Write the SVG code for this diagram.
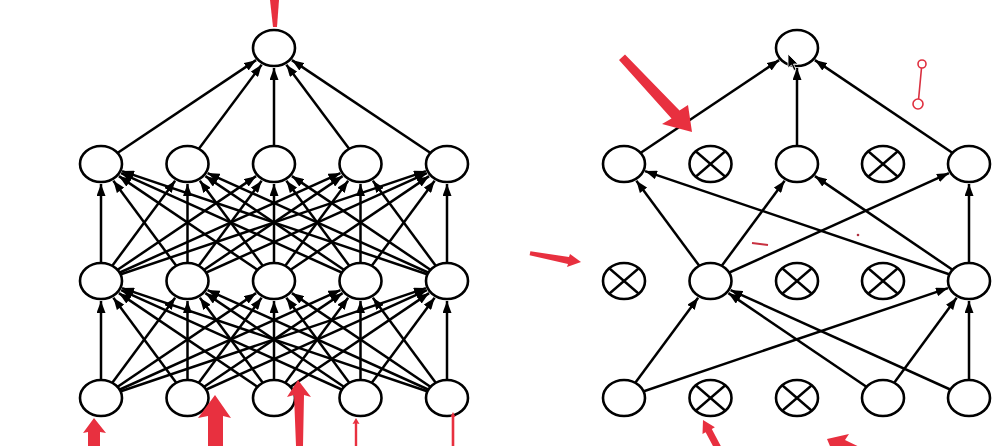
<svg xmlns="http://www.w3.org/2000/svg" width="998" height="446" viewBox="0 0 998 446">
<style>
.c{stroke:#000;stroke-width:2.5;fill:none;marker-end:url(#ah)}
.n{fill:#fff;stroke:#000;stroke-width:2.6}
.x{stroke:#000;stroke-width:2.4}
.r{fill:#e8303f}
.rs{stroke:#e0303f;fill:#fff;stroke-width:1.6}
</style>
<defs>
<marker id="ah" markerUnits="userSpaceOnUse" markerWidth="12" markerHeight="9" refX="12" refY="4.5" orient="auto">
<path d="M0,0 L12,4.5 L0,9 z" fill="#000"/>
</marker>
<g id="drop"><ellipse class="n" cx="0" cy="0" rx="21" ry="18"/><line class="x" x1="-14.5" y1="-12.5" x2="14.5" y2="12.5"/><line class="x" x1="14.5" y1="-12.5" x2="-14.5" y2="12.5"/></g>
</defs>
<rect width="998" height="446" fill="#fff"/>
<g id="connectors">
<line class="c" x1="101" y1="398" x2="101" y2="301"/>
<line class="c" x1="187.5" y1="398" x2="113.36" y2="297.72"/>
<line class="c" x1="274" y1="398" x2="118.91" y2="293.11"/>
<line class="c" x1="360.5" y1="398" x2="121.07" y2="290.05"/>
<line class="c" x1="447" y1="398" x2="122.03" y2="288.11"/>
<line class="c" x1="101" y1="398" x2="175.14" y2="297.72"/>
<line class="c" x1="187.5" y1="398" x2="187.5" y2="301"/>
<line class="c" x1="274" y1="398" x2="199.86" y2="297.72"/>
<line class="c" x1="360.5" y1="398" x2="205.41" y2="293.11"/>
<line class="c" x1="447" y1="398" x2="207.57" y2="290.05"/>
<line class="c" x1="101" y1="398" x2="256.09" y2="293.11"/>
<line class="c" x1="187.5" y1="398" x2="261.64" y2="297.72"/>
<line class="c" x1="274" y1="398" x2="274" y2="301"/>
<line class="c" x1="360.5" y1="398" x2="286.36" y2="297.72"/>
<line class="c" x1="447" y1="398" x2="291.91" y2="293.11"/>
<line class="c" x1="101" y1="398" x2="340.43" y2="290.05"/>
<line class="c" x1="187.5" y1="398" x2="342.59" y2="293.11"/>
<line class="c" x1="274" y1="398" x2="348.14" y2="297.72"/>
<line class="c" x1="360.5" y1="398" x2="360.5" y2="301"/>
<line class="c" x1="447" y1="398" x2="372.86" y2="297.72"/>
<line class="c" x1="101" y1="398" x2="425.97" y2="288.11"/>
<line class="c" x1="187.5" y1="398" x2="426.93" y2="290.05"/>
<line class="c" x1="274" y1="398" x2="429.09" y2="293.11"/>
<line class="c" x1="360.5" y1="398" x2="434.64" y2="297.72"/>
<line class="c" x1="447" y1="398" x2="447" y2="301"/>
<line class="c" x1="101" y1="281" x2="101" y2="184"/>
<line class="c" x1="187.5" y1="281" x2="113.36" y2="180.72"/>
<line class="c" x1="274" y1="281" x2="118.91" y2="176.11"/>
<line class="c" x1="360.5" y1="281" x2="121.07" y2="173.05"/>
<line class="c" x1="447" y1="281" x2="122.03" y2="171.11"/>
<line class="c" x1="101" y1="281" x2="175.14" y2="180.72"/>
<line class="c" x1="187.5" y1="281" x2="187.5" y2="184"/>
<line class="c" x1="274" y1="281" x2="199.86" y2="180.72"/>
<line class="c" x1="360.5" y1="281" x2="205.41" y2="176.11"/>
<line class="c" x1="447" y1="281" x2="207.57" y2="173.05"/>
<line class="c" x1="101" y1="281" x2="256.09" y2="176.11"/>
<line class="c" x1="187.5" y1="281" x2="261.64" y2="180.72"/>
<line class="c" x1="274" y1="281" x2="274" y2="184"/>
<line class="c" x1="360.5" y1="281" x2="286.36" y2="180.72"/>
<line class="c" x1="447" y1="281" x2="291.91" y2="176.11"/>
<line class="c" x1="101" y1="281" x2="340.43" y2="173.05"/>
<line class="c" x1="187.5" y1="281" x2="342.59" y2="176.11"/>
<line class="c" x1="274" y1="281" x2="348.14" y2="180.72"/>
<line class="c" x1="360.5" y1="281" x2="360.5" y2="184"/>
<line class="c" x1="447" y1="281" x2="372.86" y2="180.72"/>
<line class="c" x1="101" y1="281" x2="425.97" y2="171.11"/>
<line class="c" x1="187.5" y1="281" x2="426.93" y2="173.05"/>
<line class="c" x1="274" y1="281" x2="429.09" y2="176.11"/>
<line class="c" x1="360.5" y1="281" x2="434.64" y2="180.72"/>
<line class="c" x1="447" y1="281" x2="447" y2="184"/>
<line class="c" x1="101" y1="164" x2="256.09" y2="60.11"/>
<line class="c" x1="187.5" y1="164" x2="261.64" y2="64.72"/>
<line class="c" x1="274" y1="164" x2="274" y2="68"/>
<line class="c" x1="360.5" y1="164" x2="286.36" y2="64.72"/>
<line class="c" x1="447" y1="164" x2="291.91" y2="60.11"/>
<line class="c" x1="624" y1="164" x2="779.09" y2="60.11"/>
<line class="c" x1="797" y1="164" x2="797" y2="68"/>
<line class="c" x1="969" y1="164" x2="814.91" y2="60.11"/>
<line class="c" x1="710.5" y1="281" x2="636.36" y2="180.72"/>
<line class="c" x1="710.5" y1="281" x2="784.64" y2="180.72"/>
<line class="c" x1="710.5" y1="281" x2="948.93" y2="173.05"/>
<line class="c" x1="969" y1="281" x2="645.03" y2="171.11"/>
<line class="c" x1="969" y1="281" x2="814.91" y2="176.11"/>
<line class="c" x1="969" y1="281" x2="969" y2="184"/>
<line class="c" x1="624" y1="398" x2="698.14" y2="297.72"/>
<line class="c" x1="624" y1="398" x2="947.97" y2="288.11"/>
<line class="c" x1="883" y1="398" x2="728.41" y2="293.11"/>
<line class="c" x1="883" y1="398" x2="956.64" y2="297.72"/>
<line class="c" x1="969" y1="398" x2="730.57" y2="290.05"/>
<line class="c" x1="969" y1="398" x2="969" y2="301"/>
</g>
<g id="left-out"><ellipse class="n" cx="274" cy="48" rx="21" ry="18"/></g>
<g id="left-h2-0"><ellipse class="n" cx="101" cy="164" rx="21" ry="18"/></g>
<g id="left-h2-1"><ellipse class="n" cx="187.5" cy="164" rx="21" ry="18"/></g>
<g id="left-h2-2"><ellipse class="n" cx="274" cy="164" rx="21" ry="18"/></g>
<g id="left-h2-3"><ellipse class="n" cx="360.5" cy="164" rx="21" ry="18"/></g>
<g id="left-h2-4"><ellipse class="n" cx="447" cy="164" rx="21" ry="18"/></g>
<g id="left-h1-0"><ellipse class="n" cx="101" cy="281" rx="21" ry="18"/></g>
<g id="left-h1-1"><ellipse class="n" cx="187.5" cy="281" rx="21" ry="18"/></g>
<g id="left-h1-2"><ellipse class="n" cx="274" cy="281" rx="21" ry="18"/></g>
<g id="left-h1-3"><ellipse class="n" cx="360.5" cy="281" rx="21" ry="18"/></g>
<g id="left-h1-4"><ellipse class="n" cx="447" cy="281" rx="21" ry="18"/></g>
<g id="left-in-0"><ellipse class="n" cx="101" cy="398" rx="21" ry="18"/></g>
<g id="left-in-1"><ellipse class="n" cx="187.5" cy="398" rx="21" ry="18"/></g>
<g id="left-in-2"><ellipse class="n" cx="274" cy="398" rx="21" ry="18"/></g>
<g id="left-in-3"><ellipse class="n" cx="360.5" cy="398" rx="21" ry="18"/></g>
<g id="left-in-4"><ellipse class="n" cx="447" cy="398" rx="21" ry="18"/></g>
<g id="right-out"><ellipse class="n" cx="797" cy="48" rx="21" ry="18"/></g>
<g id="right-h2-0"><ellipse class="n" cx="624" cy="164" rx="21" ry="18"/></g>
<g id="right-h2-1"><use href="#drop" x="710.5" y="164"/></g>
<g id="right-h2-2"><ellipse class="n" cx="797" cy="164" rx="21" ry="18"/></g>
<g id="right-h2-3"><use href="#drop" x="883" y="164"/></g>
<g id="right-h2-4"><ellipse class="n" cx="969" cy="164" rx="21" ry="18"/></g>
<g id="right-h1-0"><use href="#drop" x="624" y="281"/></g>
<g id="right-h1-1"><ellipse class="n" cx="710.5" cy="281" rx="21" ry="18"/></g>
<g id="right-h1-2"><use href="#drop" x="797" y="281"/></g>
<g id="right-h1-3"><use href="#drop" x="883" y="281"/></g>
<g id="right-h1-4"><ellipse class="n" cx="969" cy="281" rx="21" ry="18"/></g>
<g id="right-in-0"><ellipse class="n" cx="624" cy="398" rx="21" ry="18"/></g>
<g id="right-in-1"><use href="#drop" x="710.5" y="398"/></g>
<g id="right-in-2"><use href="#drop" x="797" y="398"/></g>
<g id="right-in-3"><ellipse class="n" cx="883" cy="398" rx="21" ry="18"/></g>
<g id="right-in-4"><ellipse class="n" cx="969" cy="398" rx="21" ry="18"/></g>
<g id="annotations">
<polygon class="r" points="270,0 279,0 277,27 273,27"/>
<polygon class="r" points="94,418 106,433 100,432 100,446 88,446 88,432 83,433"/>
<polygon class="r" points="215,395 231,418 223,416 223,446 208,446 208,416 198,418"/>
<polygon class="r" points="298,380 311,397 304,395 303,446 296,446 294,395 287,397"/>
<polygon class="r" points="356,418 359.5,424 357.2,423.5 357.2,446 354.8,446 354.8,423.5 352.5,424"/>
<polygon class="r" points="453,412 455.5,417 454.3,417 454.3,446 451.7,446 451.7,417 450.5,417"/>
<polygon class="r" points="692,132 662,124 671.5,118.5 619,60 625,54.5 679.5,110.5 688,105"/>
<polygon class="r" points="581,262 570,254 569,257 530.4,251.3 529.6,255.2 568,264 567,267"/>
<polygon class="r" points="703,420 714.9,427.3 711.8,429 722,448.3 716,451.7 705.6,432.3 702.5,433.9"/>
<polygon class="r" points="827,439 849,434 845,440 870,452 860,470 838,452 835,458"/>
<line x1="921.5" y1="68" x2="918.6" y2="99" stroke="#d83040" stroke-width="1.6"/>
<circle class="rs" cx="922" cy="64" r="4"/>
<circle class="rs" cx="918" cy="104" r="5"/>
<line x1="752" y1="243" x2="768" y2="245" stroke="#c83040" stroke-width="2"/>
<circle cx="858" cy="235" r="1.3" fill="#b03040"/>
<polygon points="788,54 788,68 791.5,65 794,70.5 796,69.5 793.5,64 798,64 z" fill="#000" stroke="#fff" stroke-width="0.8"/>
</g>
</svg>
